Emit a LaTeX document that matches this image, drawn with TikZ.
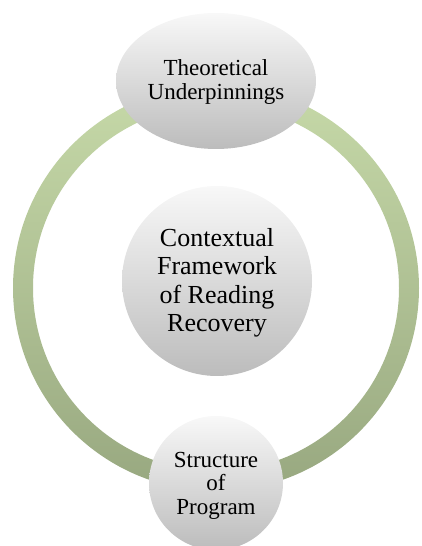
\documentclass[tikz,border=0pt]{standalone}
\usepackage{fontspec}
\setmainfont{Liberation Serif}
\usetikzlibrary{shapes.geometric}
\definecolor{ringtop}{RGB}{198,217,168}
\definecolor{ringbot}{RGB}{152,168,128}
\definecolor{balltop}{RGB}{248,248,248}
\definecolor{ballbot}{RGB}{188,188,188}
\tikzset{
  ball/.style={ellipse, inner sep=0pt, top color=balltop, bottom color=ballbot, draw=none},
  lbl/.style={align=center, text=black, inner sep=0pt},
}
\begin{document}
\begin{tikzpicture}[x=1pt,y=1pt]
\useasboundingbox (0,0) rectangle (421,546);
\clip (0,0) rectangle (421,546);
% ring
\shade[top color=ringtop, bottom color=ringbot, even odd rule]
  (216,258) circle[radius=203] (216,258) circle[radius=183];
% shapes
\node[ball, minimum width=200pt, minimum height=136pt] (top) at (216,465) {};
\node[ball, minimum width=190pt, minimum height=190pt] (mid) at (217,265) {};
\node[ball, minimum width=134pt, minimum height=134pt] (bot) at (216,63) {};
% labels
\node[lbl, font=\fontsize{23}{24}\selectfont] (toplbl) at (216,464.4) {Theoretical\\Underpinnings};
\node[lbl, font=\fontsize{26}{28.5}\selectfont] (midlbl) at (217,263.3) {Contextual\\Framework\\of Reading\\Recovery};
\node[lbl, font=\fontsize{23}{23.5}\selectfont] (botlbl) at (216,60.5) {Structure\\of\\Program};
\end{tikzpicture}
\end{document}
